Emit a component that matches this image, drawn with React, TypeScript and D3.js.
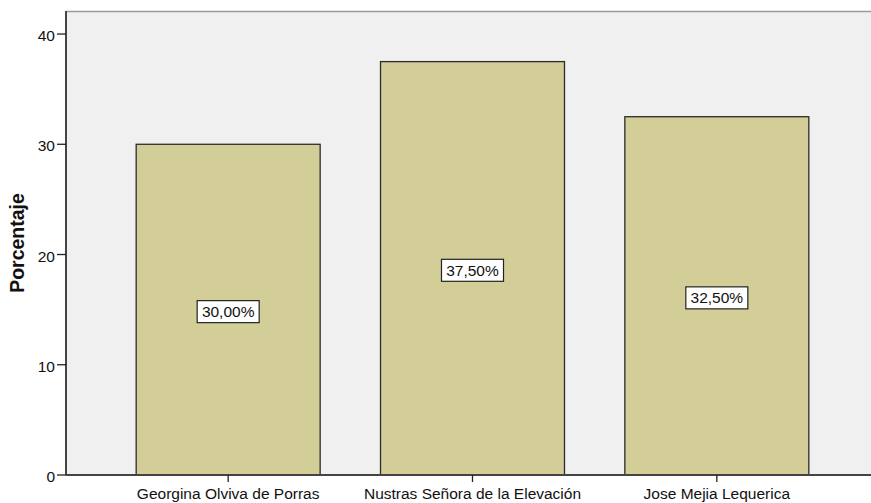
import React from "react";
import * as d3 from "d3";

const categories = ["Georgina Olviva de Porras", "Nustras Señora de la Elevación", "Jose Mejia Lequerica"];
const values = [30.0, 37.5, 32.5];
const labels = ["30,00%", "37,50%", "32,50%"];
const yTicks = [0, 10, 20, 30, 40];
const yTitle = "Porcentaje";

const W = 871;
const H = 503;
const plot = { left: 66, top: 11, right: 871, bottom: 475 };

export default function App() {
  const y = d3.scaleLinear().domain([0, 42.09]).range([plot.bottom, plot.top]);
  const x = d3
    .scaleBand<string>()
    .domain(categories)
    .range([106, 839])
    .paddingInner(0.247)
    .paddingOuter(0.1235);
  const bw = x.bandwidth();
  const font = "Liberation Sans, Arial, sans-serif";
  return (
    <svg width={W} height={H} style={{ position: "absolute", left: 0, top: 0 }} fontFamily={font}>
      <rect x={0} y={0} width={W} height={H} fill="#ffffff" />
      <rect x={plot.left} y={plot.top} width={plot.right - plot.left} height={plot.bottom - plot.top} fill="#f0f0f0" />
      <line x1={plot.left} x2={plot.right} y1={plot.top + 0.5} y2={plot.top + 0.5} stroke="#9a9a9a" strokeWidth={1.5} />
      {categories.map((c, i) => {
        const x0 = x(c)!;
        const yt = y(values[i]);
        const cx = x0 + bw / 2;
        const cy = (yt + plot.bottom) / 2 + 2;
        return (
          <g key={c}>
            <rect x={x0} y={yt} width={bw} height={plot.bottom - yt} fill="#d3ce97" stroke="#2b2b2b" strokeWidth={1.3} />
            <rect x={cx - 31} y={cy - 11} width={62} height={22} fill="#ffffff" stroke="#222" strokeWidth={1.2} />
            <text x={cx} y={cy + 5.5} textAnchor="middle" fontSize={15.5} fill="#111">{labels[i]}</text>
          </g>
        );
      })}
      <line x1={plot.left} x2={plot.left} y1={plot.top} y2={plot.bottom} stroke="#444" strokeWidth={2} />
      <line x1={plot.left} x2={plot.right} y1={plot.bottom} y2={plot.bottom} stroke="#444" strokeWidth={2} />
      {yTicks.map((t) => (
        <g key={t}>
          <line x1={plot.left - 9} x2={plot.left} y1={y(t)} y2={y(t)} stroke="#222" strokeWidth={1.3} />
          <text x={plot.left - 11} y={y(t) + 7} textAnchor="end" fontSize={15.5} fill="#111">{t}</text>
        </g>
      ))}
      {categories.map((c) => {
        const cx = x(c)! + bw / 2;
        return (
          <g key={c + "t"}>
            <line x1={cx} x2={cx} y1={plot.bottom} y2={plot.bottom + 7} stroke="#222" strokeWidth={1.3} />
            <text x={cx} y={499} textAnchor="middle" fontSize={15.5} fill="#111">{c}</text>
          </g>
        );
      })}
      <text
        transform={`translate(24, ${(plot.top + plot.bottom) / 2}) rotate(-90)`}
        textAnchor="middle"
        fontSize={19.5}
        fontWeight="bold"
        fill="#111"
      >
        {yTitle}
      </text>
    </svg>
  );
}
